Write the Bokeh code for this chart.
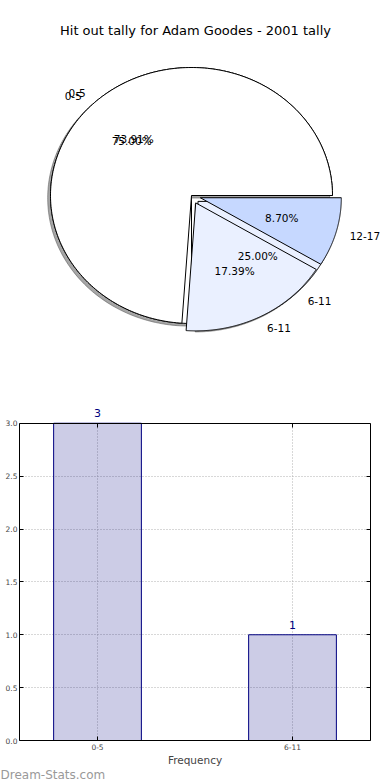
import numpy as np
from bokeh.plotting import figure
from bokeh.models import (Range1d, Label, LabelSet, ColumnDataSource, FixedTicker, Title,
                          LinearAxis, SingleIntervalTicker, NumeralTickFormatter,
                          CustomJSTickFormatter)
from bokeh.embed import file_html
from bokeh.resources import INLINE
from bokeh.core.properties import value

# ---------------- data ----------------
title_text = "Hit out tally for Adam Goodes - 2001 tally"

pie1_labels = ["0-5", "6-11"]
pie1_values = [3, 1]
pie1_explode = [0.0, 0.065]
pie1_colors = ["#ffffff", "#eaf0ff"]

pie2_labels = ["0-5", "6-11", "12-17"]
pie2_values = [17, 4, 2]
pie2_explode = [0.0, 0.065, 0.065]
pie2_colors = ["#ffffff", "#eaf0ff", "#c6d8ff"]

bar_categories = ["0-5", "6-11"]
bar_values = [3, 1]
bar_ymax = 3.0
bar_xlabel = "Frequency"
watermark = "Dream-Stats.com"

FONT = "DejaVu Sans"

# ---------------- pie geometry (matplotlib-like) ----------------
def build_pie(values, explode, labels, colors):
    total = float(sum(values))
    out = dict(xs=[], ys=[], sx=[], sy=[], color=[], lx=[], ly=[], la=[], lt=[],
               px=[], py=[], pt=[])
    start = 0.0
    for v, e, lab, col in zip(values, explode, labels, colors):
        frac = v / total
        a0 = 2 * np.pi * start
        a1 = 2 * np.pi * (start + frac)
        mid = 0.5 * (a0 + a1)
        cx, cy = e * np.cos(mid), e * np.sin(mid)
        t = np.linspace(a0, a1, 240)
        xs = [cx] + list(cx + np.cos(t))
        ys = [cy] + list(cy + np.sin(t))
        out["xs"].append(xs)
        out["ys"].append(ys)
        out["sx"].append([x - 0.02 for x in xs])
        out["sy"].append([y - 0.02 for y in ys])
        out["color"].append(col)
        lx = cx + 1.1 * np.cos(mid)
        ly = cy + 1.1 * np.sin(mid)
        out["lx"].append(lx)
        out["ly"].append(ly)
        out["la"].append("left" if lx > 0 else "right")
        out["lt"].append(lab)
        out["px"].append(cx + 0.6 * np.cos(mid))
        out["py"].append(cy + 0.6 * np.sin(mid))
        out["pt"].append("%.2f%%" % (100 * frac))
        start += frac
    return out

pie1 = build_pie(pie1_values, pie1_explode, pie1_labels, pie1_colors)
pie2 = build_pie(pie2_values, pie2_explode, pie2_labels, pie2_colors)

# pixel layout of the pie panel
PW, PH = 390, 388
cx_px, cy_px = 191, 195      # centre inside panel (from top-left)
rx_px, ry_px = 141, 128      # pixels per unit radius (elliptical, as in source)

p = figure(width=PW, height=PH, output_backend="svg", toolbar_location=None,
           x_range=Range1d(-cx_px / rx_px, (PW - cx_px) / rx_px),
           y_range=Range1d(-(PH - cy_px) / ry_px, cy_px / ry_px),
           min_border=0)
p.axis.visible = False
p.grid.visible = False
p.outline_line_color = None

# shadows of first pie
p.patches(pie1["sx"], pie1["sy"], fill_color="#4d4d4d", fill_alpha=0.5,
          line_color="#4d4d4d", line_alpha=0.5, line_width=1)
p.patches(pie1["xs"], pie1["ys"], fill_color=pie1["color"], line_color="black", line_width=1)
p.patches(pie2["xs"], pie2["ys"], fill_color=pie2["color"], line_color="black", line_width=1)

for pie in (pie1, pie2):
    src = ColumnDataSource(dict(x=pie["lx"], y=pie["ly"], t=pie["lt"], a=pie["la"]))
    p.text(x="x", y="y", text="t", text_align="a", source=src, text_baseline="middle",
           text_font=value(FONT), text_font_size="10.5px", text_color="black")
for pie in (pie1, pie2):
    src = ColumnDataSource(dict(x=pie["px"], y=pie["py"], t=pie["pt"]))
    p.text(x="x", y="y", text="t", source=src, text_align="center", text_baseline="middle",
           text_font=value(FONT), text_font_size="10.5px", text_color="black")

p.add_layout(Label(x=195, y=PH - 30, x_units="screen", y_units="screen",
                   text=title_text, text_align="center", text_baseline="middle",
                   text_font=FONT, text_font_size="13px", text_color="black"))

# ---------------- bar panel ----------------
xidx = list(range(len(bar_categories)))
b = figure(width=390, height=392, output_backend="svg", toolbar_location=None,
           x_range=Range1d(-0.4, len(bar_categories) - 0.6),
           y_range=Range1d(0, bar_ymax * 1.056),
           min_border_left=19, min_border_right=20, min_border_top=17, min_border_bottom=40)
b.vbar(x=xidx, top=bar_values, width=0.45, fill_color="#000080", fill_alpha=0.2,
       line_color="#000080", line_width=1)

bsrc = ColumnDataSource(dict(x=xidx, y=bar_values, t=[str(v) for v in bar_values]))
b.add_layout(LabelSet(x="x", y="y", text="t", source=bsrc, y_offset=6,
                      text_align="center", text_baseline="bottom",
                      text_font=value(FONT), text_font_size="11px", text_color="#000080"))

xt = FixedTicker(ticks=xidx)
yt = SingleIntervalTicker(interval=0.5)
b.xaxis.ticker = xt
b.xaxis.major_label_overrides = {i: c for i, c in zip(xidx, bar_categories)}
b.yaxis.ticker = yt
b.yaxis.formatter = NumeralTickFormatter(format="0.0")
b.yaxis.bounds = (0, bar_ymax)
b.xaxis.axis_label = bar_xlabel
b.xaxis.axis_label_text_font = FONT
b.xaxis.axis_label_text_font_size = "10.5px"
b.xaxis.axis_label_text_font_style = "normal"
b.xaxis.axis_label_standoff = 1
for ax in (b.xaxis, b.yaxis):
    ax.major_label_text_font = FONT
    ax.major_label_text_font_size = "7.5px"
    ax.major_tick_in = 4
    ax.major_tick_out = 0
    ax.minor_tick_in = 0
    ax.minor_tick_out = 0
    ax.axis_line_color = "black"
    ax.major_tick_line_color = "black"
b.xaxis.major_label_standoff = 3
b.yaxis.major_label_standoff = 2

blank = CustomJSTickFormatter(code="return ''")
b.add_layout(LinearAxis(ticker=yt, formatter=blank, bounds=(0, bar_ymax), major_tick_in=4,
                        major_tick_out=0, minor_tick_in=0, minor_tick_out=0,
                        major_label_standoff=0, major_label_text_font_size="7.5px"), "right")
b.add_layout(LinearAxis(ticker=xt, formatter=blank, fixed_location=bar_ymax, major_tick_in=4,
                        major_tick_out=0, minor_tick_in=0, minor_tick_out=0,
                        major_label_standoff=0, major_label_text_font_size="7.5px"), "above")

b.xgrid.ticker = xt
b.ygrid.ticker = yt
try:
    b.xgrid[0].cross_bounds = (0, bar_ymax)
except Exception:
    pass
b.grid.grid_line_color = "#b0b0b0"
b.grid.grid_line_dash = "1 2"
b.outline_line_color = None

b.add_layout(Title(text=watermark, align="left", offset=-19, standoff=-6,
                   text_font=FONT, text_font_size="12px", text_font_style="normal",
                   text_color="#999999"), "below")

open("out.html", "w").write(file_html([p, b], INLINE))
